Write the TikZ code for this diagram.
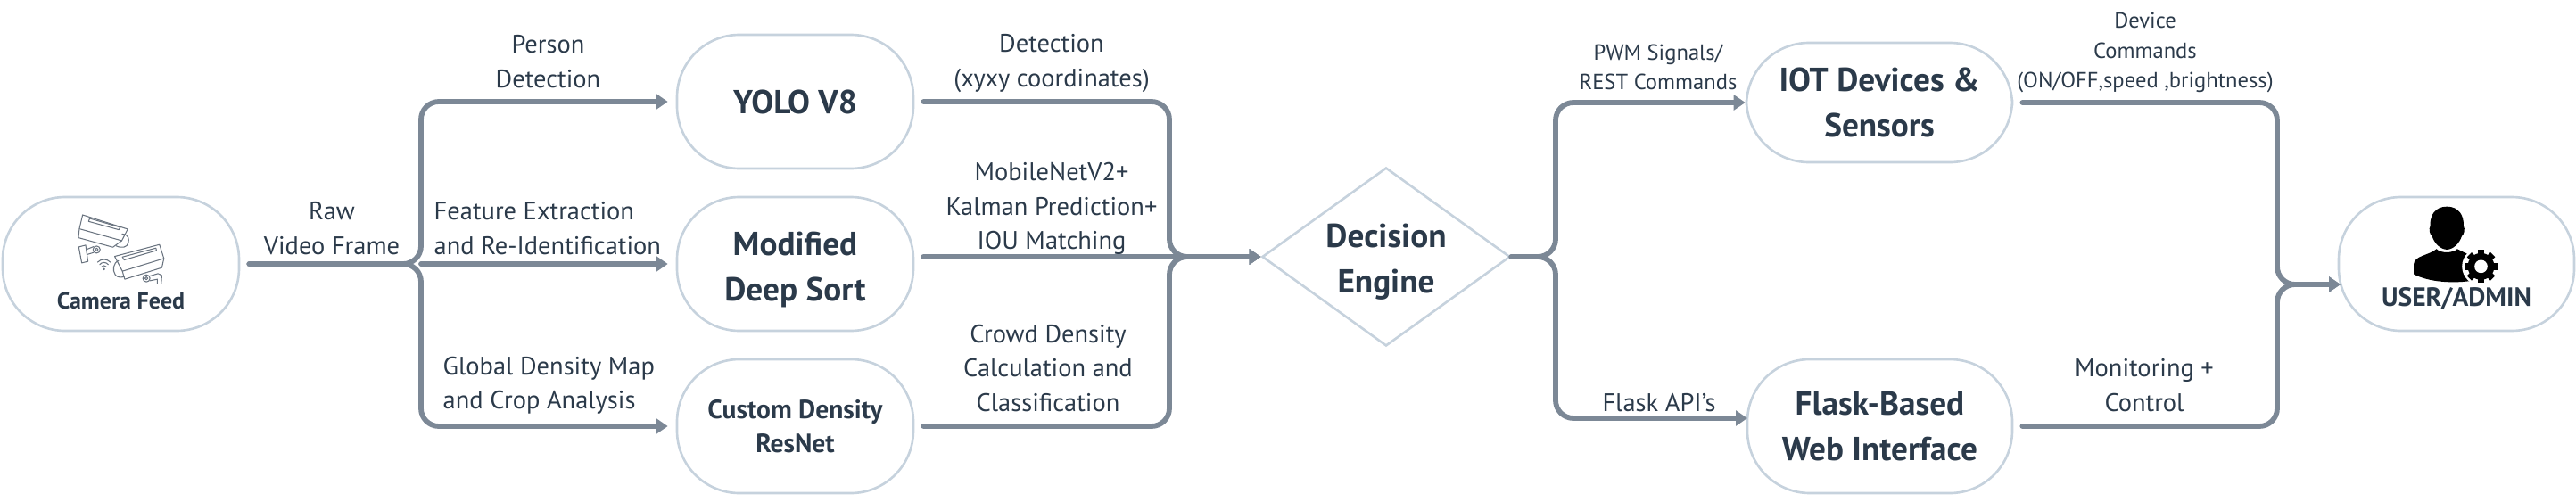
\documentclass[tikz,border=0pt]{standalone}
\usepackage{fontspec}
\setmainfont{PT Sans}
\usetikzlibrary{arrows.meta,shapes.geometric}
\definecolor{inkdark}{HTML}{2B3A4A}
\definecolor{flowgray}{HTML}{7C8896}
\definecolor{edgeblue}{HTML}{C6D2DD}
\definecolor{icongray}{HTML}{6A7480}
\tikzset{
	pill/.style={draw=edgeblue, line width=0.75pt, rounded corners=0.7cm, minimum width=2.65cm, minimum height=1.5cm, inner sep=0pt, align=center, text=inkdark, font=\bfseries\fontsize{10.6}{14.5}\selectfont},
	flow/.style={draw=flowgray, line width=1.65pt, rounded corners=0.2cm, line cap=round},
	lbl/.style={text=inkdark, inner sep=0pt, align=center, font=\fontsize{8.1}{10.9}\selectfont},
	smalllbl/.style={lbl, font=\fontsize{7}{9.4}\selectfont},
	iconline/.style={draw=icongray, line width=0.3pt, line join=round}
}
\begin{document}
\begin{tikzpicture}[>={Triangle[length=3.7pt,width=4.8pt]}]
	\useasboundingbox (0,0) rectangle (28.88,5.62);
	% blocks
	\node[pill] (cam) at (1.355,2.66) {};
	\node[pill] (yolo) at (8.915,4.48) {YOLO V8};
	\node[pill] (mod) at (8.915,2.66) {\rule{0pt}{11pt}Modified\\Deep Sort};
	\node[pill, font=\bfseries\fontsize{8.4}{10.9}\selectfont] (cus) at (8.915,0.84) {Custom Density\\ResNet};
	\node[diamond, draw=edgeblue, line width=0.75pt, minimum width=2.78cm, minimum height=2cm, aspect=1.39, inner sep=-3pt, align=center, text=inkdark, font=\bfseries\fontsize{10.6}{14.5}\selectfont] (dec) at (15.54,2.74) {\rule{0pt}{11pt}Decision\\Engine};
	\node[pill, minimum width=2.98cm, minimum height=1.34cm] (iot) at (21.07,4.47) {IOT Devices \&\\Sensors};
	\node[pill, minimum width=2.97cm] (fla) at (21.075,0.84) {Flask-Based\\Web Interface};
	\node[pill, minimum width=2.64cm] (usr) at (27.54,2.66) {};
	\node[lbl, font=\bfseries\fontsize{7.4}{8}\selectfont] (camname) at (1.355,2.25) {Camera Feed};
	\node[lbl, font=\bfseries\fontsize{8.4}{9}\selectfont] (usrname) at (27.54,2.27) {USER/ADMIN};
	% connector ends
	\coordinate (split) at (4.72,2.66);
	\coordinate (merge) at (13.11,2.74);
	\coordinate (fork) at (17.44,2.74);
	\coordinate (flain) at (19.59,0.93);
	\coordinate (join) at (25.53,2.43);
	\coordinate (usrin) at (26.24,2.43);
	% connectors
	\draw[flow,->] ([xshift=.1cm]cam.east) -- (split) |- ([xshift=-.09cm]yolo.west);
	\draw[flow,->] (split) -- ([xshift=-.09cm]mod.west);
	\draw[flow,->] ([xshift=.1cm]cam.east) -- (split) |- ([xshift=-.09cm]cus.west);
	\draw[flow,->] ([xshift=.1cm]yolo.east) -| (merge) -- (dec.west);
	\draw[flow,->] ([xshift=.1cm]mod.east |- dec.west) -- (dec.west);
	\draw[flow,->] ([xshift=.1cm]cus.east) -| (merge) -- (dec.west);
	\draw[flow,->] (dec.east) -- (fork) |- (iot.west);
	\draw[flow,->] (dec.east) -- (fork) |- (flain);
	\draw[flow,->] ([xshift=.1cm]iot.east) -| (join) -- (usrin);
	\draw[flow,->] ([xshift=.1cm]fla.east) -| (join) -- (usrin);
	% labels
	\node[lbl] (rawlbl) at (3.72,3.06) {Raw\\Video Frame};
	\node[lbl] (perlbl) at (6.145,4.93) {Person\\Detection};
	\node[lbl, anchor=west, align=left] (feelbl) at (4.86,3.06) {Feature Extraction\\and Re-Identification};
	\node[lbl, anchor=west, align=left] (glolbl) at (4.96,1.295) {Global Density Map\\and Crop Analysis};
	\node[lbl] (detlbl) at (11.79,4.91) {Detection\\(xyxy coordinates)};
	\node[lbl] (moblbl) at (11.79,3.28) {MobileNetV2+\\Kalman Prediction+\\IOU Matching};
	\node[lbl] (crolbl) at (11.75,1.49) {Crowd Density\\Calculation and\\Classification};
	\node[smalllbl] (pwmlbl) at (18.59,4.87) {PWM Signals/\\REST Commands};
	\node[lbl] (apilbl) at (18.60,1.10) {Flask API's};
	\node[smalllbl] (devlbl) at (24.05,5.03) {Device\\Commands\\(ON/OFF,speed ,brightness)};
	\node[lbl] (monlbl) at (24.04,1.30) {Monitoring +\\Control};
	% camera icon
	\begin{scope}[shift={(0.80,3.27)},x=0.00333cm,y=-0.00333cm]
		\draw[iconline] (38,18) -- (190,66) -- (170,105) -- (27,65) -- cycle;
		\draw[iconline] (62,30) -- (165,60) -- (160,68) -- (58,40) -- cycle;
		\draw[iconline] (27,65) -- (24,95) -- (140,127) -- (170,105);
		\draw[iconline] (170,82) .. controls (195,84) and (195,100) .. (192,112) .. controls (188,128) and (170,132) .. (150,122);
		\draw[iconline] (25,126) -- (48,120) -- (56,175) -- (35,180) -- cycle;
		\draw[iconline] (50,135) -- (75,125) (52,152) -- (75,145);
		\draw[iconline] (85,135) circle (12) (85,135) circle (5);
		\draw[iconline] (146,158) -- (297,118) -- (312,165) -- (172,208) -- cycle;
		\draw[iconline] (172,160) -- (285,130) -- (287,138) -- (178,170) -- cycle;
		\draw[iconline] (172,208) -- (180,235) -- (305,196) -- (312,165);
		\draw[iconline] (160,172) .. controls (140,180) and (138,205) .. (148,220) .. controls (155,230) and (170,230) .. (180,225);
		\draw[iconline] (253,232) circle (12) (253,232) circle (5);
		\draw[iconline] (262,225) -- (292,216) -- (305,222) -- (303,250) (265,240) -- (290,235) -- (290,250);
		\draw[iconline] (88,178) .. controls (100,165) and (120,165) .. (132,178);
		\draw[iconline] (95,186) .. controls (104,176) and (116,176) .. (125,186);
		\draw[iconline] (102,193) .. controls (107,188) and (113,188) .. (118,193);
		\fill[icongray] (110,201) circle (4);
	\end{scope}
	% user icon
	\begin{scope}[shift={(27.00,3.37)},x=0.00333cm,y=-0.00333cm]
		\fill[black] (130,20) .. controls (170,20) and (188,50) .. (186,85) .. controls (192,95) and (188,115) .. (180,120) .. controls (172,145) and (150,165) .. (130,165) .. controls (110,165) and (88,145) .. (80,120) .. controls (72,115) and (68,95) .. (74,85) .. controls (72,50) and (90,20) .. (130,20) -- cycle;
		\fill[black] (95,163) .. controls (108,178) and (150,178) .. (165,163) .. controls (180,172) and (200,178) .. (215,190) -- (215,270) .. controls (150,280) and (70,275) .. (18,248) -- (18,215) .. controls (20,185) and (70,185) .. (95,163) -- cycle;
		\fill[white] (245,222) circle (64);
		\foreach \a in {0,45,...,315} {\fill[black, rotate around={\a:(245,222)}] (234,166) rectangle (256,200);}
		\fill[black] (245,222) circle (45);
		\fill[white] (245,222) circle (22);
	\end{scope}
\end{tikzpicture}
\end{document}
